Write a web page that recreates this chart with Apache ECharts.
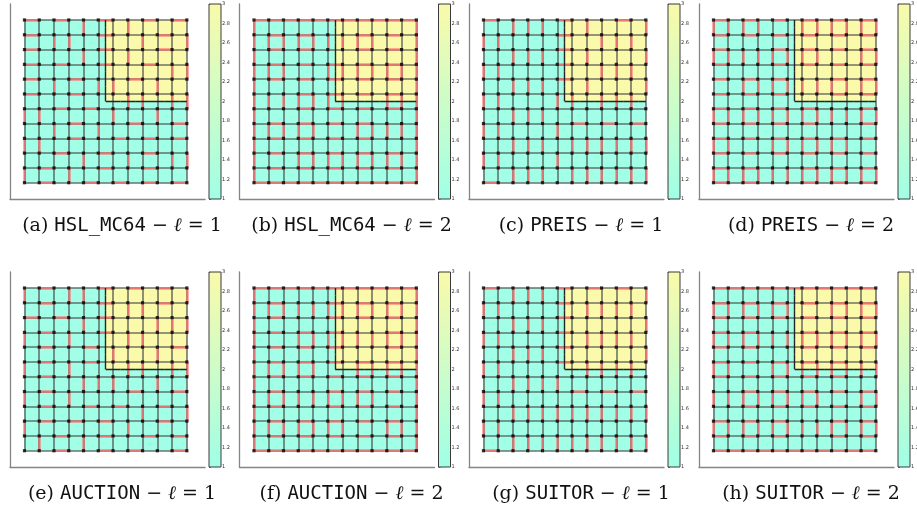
<!DOCTYPE html>
<html><head><meta charset="utf-8">
<script src="https://cdn.jsdelivr.net/npm/echarts@6/dist/echarts.min.js"></script>
<style>html,body{margin:0;padding:0;background:#fff}#c{width:917px;height:511px}</style>
</head><body><div id="c"></div>
<script>
// ---------------- DATA ----------------
const GRID_N = 12;
// node values (row 0 = top), 1 = cyan, 3 = yellow
const nodeValues = [
 [1,1,1,1,1,1,3,3,3,3,3,3],
 [1,1,1,1,1,1,3,3,3,3,3,3],
 [1,1,1,1,1,1,3,3,3,3,3,3],
 [1,1,1,1,1,1,3,3,3,3,3,3],
 [1,1,1,1,1,1,3,3,3,3,3,3],
 [1,1,1,1,1,1,3,3,3,3,3,3],
 [1,1,1,1,1,1,1,1,1,1,1,1],
 [1,1,1,1,1,1,1,1,1,1,1,1],
 [1,1,1,1,1,1,1,1,1,1,1,1],
 [1,1,1,1,1,1,1,1,1,1,1,1],
 [1,1,1,1,1,1,1,1,1,1,1,1],
 [1,1,1,1,1,1,1,1,1,1,1,1]
];
const panelLetters = ['a','b','c','d','e','f','g','h'];
const algorithms = ['HSL_MC64','HSL_MC64','PREIS','PREIS','AUCTION','AUCTION','SUITOR','SUITOR'];
const levels = [1,2,1,2,1,2,1,2];
const colorbarMin = 1, colorbarMax = 3, colorbarStep = 0.2;

// matched (red) edges: h rows -> char k = edge (r,k)-(r,k+1); v rows -> char c = edge (r,c)-(r+1,c)
const hRed_a = ["10100100101","10000100010","10000100010","10100100100","10010001000","10010000000","00101000000","00010001001","00010010101","00100100100","01000100100","01001010101"];
const vRed_a = ["000010010000","001100001001","000010010000","000000000011","001001100100","000000011011","110000100100","001001000000","110000000000","000010010011","100100000000"];
const hRed_b = ["11111111111","01010001010","01010001010","01010101010","01010101010","00010101010","00010101010","01010101000","01010101000","01010101010","01010101010","11111111111"];
const vRed_b = ["100000000001","111111111001","100000000001","111001111111","100000000001","111111100111","100000000001","111110011111","100000000001","100111111111","100000000001"];
const hRed_c = ["10000100010","00000100000","00000100000","00000100000","00000100000","00000000000","00000000000","00000010101","00000000000","00000000000","00000000000","10000000000"];
const vRed_c = ["001110010001","110000001110","001110010001","110000001110","001110010001","110001101110","001110000000","110001000000","001110111111","110001000000","001110111111"];
const hRed_d = ["10101010101","10101010101","10001010101","10001010101","10101000101","10101000101","10101010001","10101010001","10101010101","10101010101","10100010101","10100010101"];
const vRed_d = ["111100111111","000000000000","111111110011","000000000000","001111111111","000000000000","111111111111","000000000000","110011111100","000000000000","111111111111"];
const hRed_e = ["01000101010","01000100010","10100100000","01000100000","01001000001","01001000000","01000000000","01000001001","01001010010","01010100010","00100100101","00100101001"];
const vRed_e = ["100110000001","000000011000","000010000111","100100011000","000000100100","100100011011","000011100100","100100000000","000000001001","100000010000","010010000000"];
const hRed_f = ["11111111111","01000101010","01000101010","01010100010","01010100010","01010101010","01010101010","01000101010","01000101010","01010101010","01010101010","11111111111"];
const vRed_f = ["100000000001","111111111111","100000000001","100111111111","100000000001","111110011111","100000000001","111111111001","100000000001","111111100111","100000000001"];
const hRed_g = ["10000101010","00000100000","00000100000","00000100000","00000100000","00000100000","00000000000","00000010101","00000000000","00000000000","00000000000","10000000000"];
const vRed_g = ["001110000001","110000011110","001110000001","110000011110","001110000001","110000011110","001111000000","110000000000","001111111111","110000000000","001111111111"];
const hRed_h = ["11111111111","10101010101","10101010101","10100010101","10100010101","10101010100","10101010100","00101010101","00101010101","10101000101","10101000101","11111111111"];
const vRed_h = ["000000000000","111111001111","000000000000","111111111111","000000000000","110011111111","000000000000","111111110011","000000000000","111111111111","000000000000"];

const redH = [hRed_a,hRed_b,hRed_c,hRed_d,hRed_e,hRed_f,hRed_g,hRed_h];
const redV = [vRed_a,vRed_b,vRed_c,vRed_d,vRed_e,vRed_f,vRed_g,vRed_h];

// ---------------- STYLE / LAYOUT ----------------
const CYAN = '#a0ffe6', YELLOW = '#fafaaa';
const AX_LEFT = [10, 239.5, 469, 699], AX_TOP = [4, 272], AX_W = 195, AX_H = 195;
const X_MIN = -0.98, X_MAX = 12.23, Y_MIN = -1.08, Y_MAX = 12.1;

// ---------------- BUILD ----------------
const last = GRID_N - 1;
const fillData = [], nodeData = [], grayEdges = [], boundary = [];
for (let r = 0; r < GRID_N; r++) for (let c = 0; c < GRID_N; c++) {
  fillData.push([c, r, nodeValues[r][c]]);
  nodeData.push([c, r]);
  if (c < last) {
    grayEdges.push({coords: [[c, r], [c + 1, r]]});
    if (nodeValues[r][c] !== nodeValues[r][c + 1])
      boundary.push({coords: [[c + 0.5, Math.max(0, r - 0.5)], [c + 0.5, Math.min(last, r + 0.5)]]});
  }
  if (r < last) {
    grayEdges.push({coords: [[c, r], [c, r + 1]]});
    if (nodeValues[r][c] !== nodeValues[r + 1][c])
      boundary.push({coords: [[Math.max(0, c - 0.5), r + 0.5], [Math.min(last, c + 0.5), r + 0.5]]});
  }
}
function redEdges(h, v) {
  const out = [];
  h.forEach((s, r) => { for (let k = 0; k < s.length; k++) if (s[k] === '1') out.push({coords: [[k, r], [k + 1, r]]}); });
  v.forEach((s, r) => { for (let c = 0; c < s.length; c++) if (s[c] === '1') out.push({coords: [[c, r], [c, r + 1]]}); });
  return out;
}

const grids = [], xAxes = [], yAxes = [], series = [], visualMaps = [], graphics = [];
const axisLineStyle = {show: true, onZero: false, lineStyle: {color: '#858585', width: 1.3}};
for (let p = 0; p < 8; p++) {
  const L = AX_LEFT[p % 4], T = AX_TOP[Math.floor(p / 4)];
  const gi = grids.length;
  grids.push({left: L, top: T, width: AX_W, height: AX_H, outerBoundsMode: 'none', containLabel: false});
  xAxes.push({gridIndex: gi, type: 'value', min: X_MIN, max: X_MAX, axisLine: axisLineStyle,
    axisTick: {show: false}, axisLabel: {show: false}, splitLine: {show: false}});
  yAxes.push({gridIndex: gi, type: 'value', inverse: true, min: Y_MIN, max: Y_MAX, axisLine: axisLineStyle,
    axisTick: {show: false}, axisLabel: {show: false}, splitLine: {show: false}});
  // colorbar axis
  grids.push({left: L + 199, top: T, width: 12, height: AX_H, show: true, borderColor: '#3a3a3a',
    borderWidth: 1, backgroundColor: 'transparent', z: 10, outerBoundsMode: 'none', containLabel: false});
  xAxes.push({gridIndex: gi + 1, type: 'value', min: 0, max: 1, show: false});
  yAxes.push({gridIndex: gi + 1, type: 'value', min: colorbarMin, max: colorbarMax, interval: colorbarStep,
    position: 'right', axisLine: {show: false}, splitLine: {show: false},
    axisTick: {show: true, length: 2, lineStyle: {color: '#444', width: 0.7}},
    axisLabel: {fontSize: 5, margin: 1, color: '#333', fontFamily: 'DejaVu Sans', hideOverlap: false,
      formatter: v => String(Math.round(v * 10) / 10)}});

  const fillIndex = series.length;
  series.push({type: 'custom', xAxisIndex: gi, yAxisIndex: gi, z: 1, silent: true,
    encode: {x: 0, y: 1}, data: fillData,
    renderItem: (params, api) => {
      const c = api.value(0), r = api.value(1);
      const p0 = api.coord([Math.max(0, c - 0.5), Math.max(0, r - 0.5)]);
      const p1 = api.coord([Math.min(last, c + 0.5), Math.min(last, r + 0.5)]);
      const col = api.visual('color');
      return {type: 'rect', shape: {x: Math.min(p0[0], p1[0]), y: Math.min(p0[1], p1[1]),
        width: Math.abs(p1[0] - p0[0]), height: Math.abs(p1[1] - p0[1])},
        style: {fill: col, stroke: col, lineWidth: 0.6}};
    }});
  visualMaps.push({type: 'continuous', min: colorbarMin, max: colorbarMax, seriesIndex: fillIndex, dimension: 2,
    left: L + 199, top: T, itemWidth: 12, itemHeight: AX_H, padding: 0, calculable: false,
    hoverLink: false, inRange: {color: [CYAN, YELLOW]}});
  series.push({type: 'lines', coordinateSystem: 'cartesian2d', xAxisIndex: gi, yAxisIndex: gi, z: 2, silent: true,
    lineStyle: {color: '#505050', width: 1.6, opacity: 0.8}, data: grayEdges});
  series.push({type: 'lines', coordinateSystem: 'cartesian2d', xAxisIndex: gi, yAxisIndex: gi, z: 3, silent: true,
    lineStyle: {color: '#ff6e6e', width: 2.5, opacity: 0.75}, data: redEdges(redH[p], redV[p])});
  series.push({type: 'lines', coordinateSystem: 'cartesian2d', xAxisIndex: gi, yAxisIndex: gi, z: 4, silent: true,
    lineStyle: {color: '#1a1a1a', width: 1.4, opacity: 0.95}, data: boundary});
  series.push({type: 'scatter', xAxisIndex: gi, yAxisIndex: gi, z: 5, silent: true, symbol: 'rect',
    symbolSize: 3.2, itemStyle: {color: '#000'}, data: nodeData});

  graphics.push({type: 'text', x: L + 112, y: T + 222, silent: true,
    style: {text: '{s|(' + panelLetters[p] + ') }{m|' + algorithms[p] + '}{s| − }{l|ℓ}{s| = ' + levels[p] + '}',
      align: 'center', verticalAlign: 'middle',
      rich: {s: {fontFamily: 'DejaVu Serif', fontSize: 19, fill: '#111'},
             l: {fontFamily: 'DejaVu Serif', fontSize: 19, fontStyle: 'italic', fill: '#111'},
             m: {fontFamily: 'DejaVu Sans Mono', fontSize: 19, fill: '#111'}}}});
}

const chart = echarts.init(document.getElementById('c'), null, {renderer: 'canvas', width: 917, height: 511});
chart.setOption({animation: false, backgroundColor: '#fff', grid: grids, xAxis: xAxes, yAxis: yAxes,
  visualMap: visualMaps, series: series, graphic: graphics});
</script></body></html>
